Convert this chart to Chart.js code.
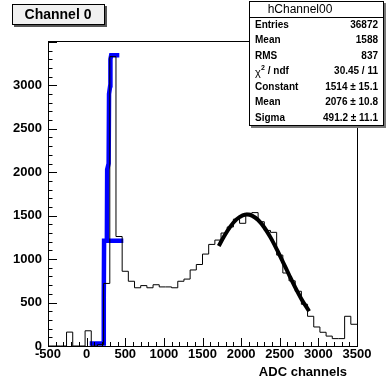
<!DOCTYPE html>
<html>
<head>
<meta charset="utf-8">
<script src="https://cdn.jsdelivr.net/npm/chart.js@4.4.1/dist/chart.umd.min.js"></script>
<style>
  html, body { margin: 0; padding: 0; background: #fff; }
  #wrap { width: 386px; height: 378px; }
</style>
</head>
<body>
<div id="wrap"><canvas id="c" width="386" height="378"></canvas></div>
<script>
// histogram: 50 bins of 80 from -500
const histMin = -500;
const histMax = 3500;
const binWidth = 80;
const binCounts = [
  0, 0, 0, 160, 0, 0, 175, 0, 15, 720,
  3330, 1260, 860, 745, 670, 695, 670, 705, 680, 680,
  670, 745, 770, 875, 938, 1058, 1169, 1219, 1300, 1370,
  1460, 1412, 1527, 1535, 1430, 1330, 1308, 1046, 840, 750,
  630, 480, 342, 219, 158, 114, 85, 85, 342, 250
];

// thick blue curve
const blueX = [40, 215, 222, 226, 475, 262, 266, 285, 290, 306, 308, 318, 423];
const blueY = [30, 30, 560, 1210, 1210, 1210, 2030, 2100, 2900, 3000, 3300, 3345, 3345];

// gaus fit
const fitX = [1710, 1780, 1860, 1940, 2020, 2076, 2140, 2220, 2300, 2380, 2460, 2540, 2620, 2700, 2780, 2880];
const fitY = [1150, 1263, 1374, 1457, 1504, 1514, 1501, 1450, 1364, 1250, 1115, 969, 820, 675, 542, 400];

const xTicks = [-500, 0, 500, 1000, 1500, 2000, 2500, 3000, 3500];
const xTickLabels = ['-500', '0', '500', '1000', '1500', '2000', '2500', '3000', '3500'];
const yTicks = [0, 500, 1000, 1500, 2000, 2500, 3000];
const yTickLabels = ['0', '500', '1000', '1500', '2000', '2500', '3000'];
const yMax = 3510;

const statsTitle = 'hChannel00';
const statsNames = ['Entries', 'Mean', 'RMS', 'chi2', 'Constant', 'Mean', 'Sigma'];
const statsValues = ['36872', '1588', '837', '30.45 / 11', '1514 \u00b1 15.1', '2076 \u00b1 10.8', '491.2 \u00b1 11.1'];

const histPts = binCounts.map((v, i) => ({ x: histMin + i * binWidth, y: v }));
histPts.push({ x: histMax, y: binCounts[binCounts.length - 1] });
const bluePts = blueX.map((x, i) => ({ x: x, y: blueY[i] }));
const fitPts = fitX.map((x, i) => ({ x: x, y: fitY[i] }));

const FONT = '"Liberation Sans", Arial, Helvetica, sans-serif';

const decorations = {
  id: 'decorations',
  afterDraw(chart) {
    const ctx = chart.ctx;
    const a = chart.chartArea;
    const xs = chart.scales.x, ys = chart.scales.y;
    ctx.save();

    // frame
    ctx.strokeStyle = '#000';
    ctx.lineWidth = 1;
    ctx.strokeRect(Math.round(a.left) + 0.5, Math.round(a.top) + 0.5, Math.round(a.right - a.left), Math.round(a.bottom - a.top));

    // x ticks (inside, pointing up)
    ctx.beginPath();
    for (let v = histMin; v <= histMax; v += 100) {
      const px = Math.round(xs.getPixelForValue(v)) + 0.5;
      const len = v % 500 === 0 ? 8 : 4;
      ctx.moveTo(px, a.bottom);
      ctx.lineTo(px, a.bottom - len);
    }
    // y ticks (inside, pointing right)
    for (let v = 0; v < yMax; v += 100) {
      const py = Math.round(ys.getPixelForValue(v)) + 0.5;
      const len = v % 500 === 0 ? 9 : 4.5;
      ctx.moveTo(a.left, py);
      ctx.lineTo(a.left + len, py);
    }
    ctx.stroke();

    // tick labels
    ctx.fillStyle = '#000';
    ctx.font = 'bold 13px ' + FONT;
    ctx.textAlign = 'right';
    ctx.textBaseline = 'middle';
    yTicks.forEach((v, i) => {
      ctx.fillText(yTickLabels[i], a.left - 6, ys.getPixelForValue(v));
    });
    ctx.textAlign = 'center';
    ctx.textBaseline = 'middle';
    xTicks.forEach((v, i) => {
      ctx.fillText(xTickLabels[i], xs.getPixelForValue(v), a.bottom + 8);
    });
    ctx.textAlign = 'right';
    ctx.fillText('ADC channels', 347, 372);

    // title box
    ctx.fillStyle = '#555';
    ctx.fillRect(14, 6, 93, 21);
    ctx.fillStyle = '#f0f0f0';
    ctx.fillRect(12, 4, 93, 21);
    ctx.strokeStyle = '#000';
    ctx.strokeRect(12.5, 4.5, 92, 20);
    ctx.fillStyle = '#000';
    ctx.font = 'bold 14px ' + FONT;
    ctx.textAlign = 'center';
    ctx.fillText('Channel 0', 58, 15);

    // stats box
    const bx = 249, by = 1, bw = 135, bh = 125;
    ctx.fillStyle = '#777';
    ctx.fillRect(bx + 2, by + 2, bw, bh);
    ctx.fillStyle = '#fff';
    ctx.fillRect(bx, by, bw, bh);
    ctx.strokeStyle = '#000';
    ctx.strokeRect(bx + 0.5, by + 0.5, bw - 1, bh - 1);
    ctx.beginPath();
    ctx.moveTo(bx, 17.5);
    ctx.lineTo(bx + bw, 17.5);
    ctx.stroke();
    ctx.fillStyle = '#000';
    ctx.font = '12px ' + FONT;
    ctx.textAlign = 'center';
    ctx.fillText(statsTitle, 300, 9.5);
    const rowY0 = 25, rowDy = 15.5;
    statsNames.forEach((name, i) => {
      const y = rowY0 + i * rowDy;
      ctx.font = 'bold 10px ' + FONT;
      ctx.textAlign = 'left';
      if (name === 'chi2') {
        ctx.font = '11px ' + FONT;
        ctx.fillText('\u03c7', 255, y + 1);
        ctx.font = 'bold 7px ' + FONT;
        ctx.fillText('2', 261, y - 3);
        ctx.font = 'bold 10px ' + FONT;
        ctx.fillText(' / ndf', 265, y);
      } else {
        ctx.fillText(name, 255, y);
      }
      ctx.textAlign = 'right';
      ctx.fillText(statsValues[i], 378, y);
    });

    ctx.restore();
  }
};

new Chart(document.getElementById('c'), {
  type: 'scatter',
  data: {
    datasets: [
      {
        data: histPts,
        showLine: true,
        stepped: 'before',
        borderColor: '#000',
        borderWidth: 1,
        pointRadius: 0
      },
      {
        data: bluePts,
        showLine: true,
        borderColor: '#0000ff',
        borderWidth: 4.5,
        pointRadius: 0,
        borderJoinStyle: 'miter'
      },
      {
        data: fitPts,
        showLine: true,
        cubicInterpolationMode: 'monotone',
        borderColor: '#000',
        borderWidth: 4,
        pointRadius: 0
      }
    ]
  },
  options: {
    responsive: false,
    animation: false,
    devicePixelRatio: 1,
    layout: { padding: { left: 48, right: 29, top: 41, bottom: 32 } },
    plugins: { legend: { display: false }, tooltip: { enabled: false } },
    scales: {
      x: { type: 'linear', min: histMin, max: histMax, display: false },
      y: { type: 'linear', min: 0, max: yMax, display: false }
    }
  },
  plugins: [decorations]
});
</script>
</body>
</html>
